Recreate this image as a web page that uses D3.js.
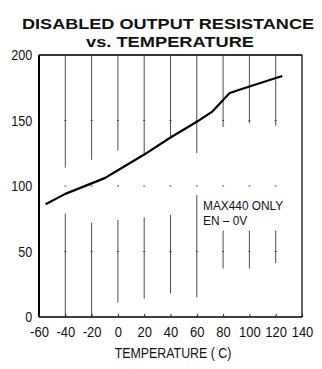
<!DOCTYPE html>
<html>
  <head>
    <title>Disabled output resistance vs. temperature</title>
    <style>
      body { margin: 0; background: #fff; }
      text { fill: #111; }
    </style>
  </head>
  <body>
    <script src="https://d3js.org/d3.v7.min.js"></script>
    <script>
      // curve (temperature in C, resistance)
      const temps = [-55, -40, -20, -10, 0, 20, 40, 60, 72, 85, 100, 125];
      const resist = [86, 94, 102, 106, 112, 124, 137, 149, 157, 171, 176, 184];

      const xTicks = [-60, -40, -20, 0, 20, 40, 60, 80, 100, 120, 140];
      const yTicks = [0, 50, 100, 150, 200];

      // vertical grid lines are broken in the scan: upper stop, lower start, lower stop
      const gridX = [-40, -20, 0, 20, 40, 60, 80, 100, 120];
      const gridUpper = [114, 120, 127, 124, 137, 125, 145, 148, 146];
      const gridLowerTop = [79, 72, 74, 76, 78, 93, 66, 66, 66];
      const gridLowerBot = [0, 0, 11, 14, 18, 15, 37, 37, 41];

      const noteLines = ["MAX440 ONLY", "EN – 0V"];

      const W = 322, H = 369;
      const mLeft = 39, mRight = 302, mTop = 55, mBottom = 317;
      const sans = "'Liberation Sans', Arial, sans-serif";
      const squeeze = "scale(0.84,1)"; // the scan uses a condensed face

      const svg = d3.select("body").append("svg")
        .attr("width", W)
        .attr("height", H);

      const x = d3.scaleLinear().domain([-60, 140]).range([mLeft, mRight]);
      const y = d3.scaleLinear().domain([0, 200]).range([mBottom, mTop]);

      // title
      svg.append("text")
        .attr("x", 168).attr("y", 29)
        .attr("text-anchor", "middle")
        .attr("textLength", 292).attr("lengthAdjust", "spacingAndGlyphs")
        .style("font", `bold 15.5px ${sans}`)
        .text("DISABLED OUTPUT RESISTANCE");
      svg.append("text")
        .attr("x", 170).attr("y", 46.5)
        .attr("text-anchor", "middle")
        .attr("textLength", 168).attr("lengthAdjust", "spacingAndGlyphs")
        .style("font", `bold 15.5px ${sans}`)
        .text("vs. TEMPERATURE");

      // grid
      const grid = svg.append("g").attr("stroke", "#3a3a3a").attr("stroke-width", 0.9);
      gridX.forEach((gx, i) => {
        grid.append("line")
          .attr("x1", x(gx)).attr("x2", x(gx))
          .attr("y1", y(200)).attr("y2", y(gridUpper[i]));
        grid.append("line")
          .attr("x1", x(gx)).attr("x2", x(gx))
          .attr("y1", y(gridLowerTop[i])).attr("y2", y(gridLowerBot[i]));
        // little tick marks left on the grid lines
        [50, 100, 150].forEach((v) => {
          grid.append("line")
            .attr("x1", x(gx) - 1).attr("x2", x(gx) + 1)
            .attr("y1", y(v)).attr("y2", y(v));
        });
      });

      // frame
      svg.append("line")
        .attr("x1", mLeft).attr("x2", mRight)
        .attr("y1", mTop).attr("y2", mTop)
        .attr("stroke", "#333").attr("stroke-width", 2);
      svg.append("line")
        .attr("x1", mRight).attr("x2", mRight)
        .attr("y1", mTop).attr("y2", mBottom)
        .attr("stroke", "#111").attr("stroke-width", 1.3);
      svg.append("line")
        .attr("x1", mLeft).attr("x2", mLeft)
        .attr("y1", mTop).attr("y2", mBottom)
        .attr("stroke", "#000").attr("stroke-width", 2);
      svg.append("line")
        .attr("x1", mLeft).attr("x2", mRight)
        .attr("y1", mBottom).attr("y2", mBottom)
        .attr("stroke", "#000").attr("stroke-width", 1.6);

      // axes
      const xAxis = svg.append("g")
        .attr("transform", `translate(0,${mBottom})`)
        .call(d3.axisBottom(x).tickValues(xTicks).tickFormat((d) => String(d))
          .tickSize(-3).tickPadding(9));
      xAxis.select(".domain").remove();
      xAxis.selectAll("line").attr("stroke", "#222");
      xAxis.selectAll("text")
        .attr("transform", squeeze)
        .style("font-family", sans).style("font-size", "15.5px").style("fill", "#111");

      const yAxis = svg.append("g")
        .attr("transform", `translate(${mLeft},0)`)
        .call(d3.axisLeft(y).tickValues(yTicks).tickSize(0).tickPadding(8));
      yAxis.select(".domain").remove();
      yAxis.selectAll("text")
        .attr("transform", squeeze)
        .style("font-family", sans).style("font-size", "15px").style("fill", "#111");

      svg.append("text")
        .attr("transform", `translate(173,358) scale(0.8,1)`)
        .attr("text-anchor", "middle")
        .style("font-family", sans).style("font-size", "15.5px")
        .text("TEMPERATURE ( C)");

      // curve
      const line = d3.line()
        .x((d, i) => x(temps[i]))
        .y((d) => y(d));
      svg.append("path")
        .datum(resist)
        .attr("d", line)
        .attr("fill", "none")
        .attr("stroke", "#000")
        .attr("stroke-width", 2.2)
        .attr("stroke-linejoin", "round");

      // note
      svg.append("text")
        .attr("transform", "translate(203,210) scale(0.88,1)")
        .style("font-family", sans).style("font-size", "13.5px")
        .selectAll("tspan")
        .data(noteLines)
        .enter()
        .append("tspan")
        .attr("x", 0)
        .attr("y", (d, i) => i * 15)
        .text((d) => d);
    </script>
  </body>
</html>
